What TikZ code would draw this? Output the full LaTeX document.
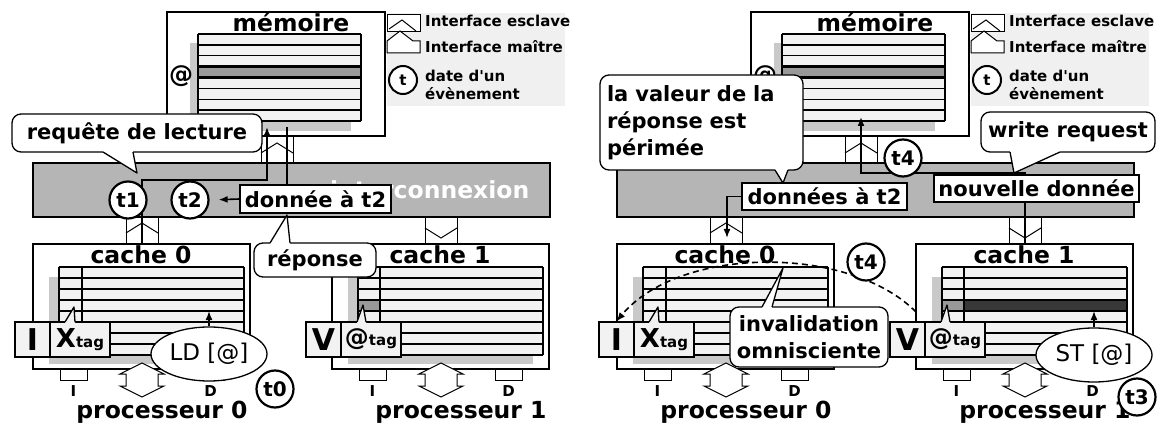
\documentclass[tikz,border=0pt]{standalone}
\usepackage{fontspec}
\setmainfont{DejaVu Sans}[Ligatures=TeXOff]
\usetikzlibrary{arrows.meta,shapes.geometric}
\definecolor{gridfill}{gray}{0.95}
\definecolor{shadowc}{gray}{0.79}
\definecolor{icfill}{gray}{0.71}
\definecolor{hlfill}{gray}{0.60}
\definecolor{darkfill}{gray}{0.22}
\definecolor{legbg}{gray}{0.94}
\tikzset{
  frame/.style={draw, line width=1.3pt, fill=white},
  gline/.style={line width=1.3pt},
  hlrow/.style={draw, line width=2.8pt},
  lbl/.style={font=\bfseries\fontsize{21}{27}\selectfont},
  ttl/.style={font=\bfseries\fontsize{23.5}{27}\selectfont},
  sml/.style={font=\bfseries\fontsize{15}{18}\selectfont},
  tbox/.style={draw, line width=1.3pt, fill=white, inner sep=0pt, lbl},
  tcirc/.style={circle, draw, line width=2.2pt, fill=white, minimum size=37pt, inner sep=0pt, font=\bfseries\fontsize{20}{22}\selectfont},
  callout/.style={draw, line width=1.3pt, fill=white, rounded corners=9pt, inner sep=0pt, lbl},
  statebox/.style={draw, line width=1.3pt, fill=gridfill, inner sep=0pt, minimum height=35pt},
  opnode/.style={ellipse, draw, line width=1.3pt, fill=white, minimum width=116pt, minimum height=54pt, inner sep=0pt, font=\fontsize{23}{23}\selectfont},
  conn/.style={line width=1.6pt},
  arr/.style={conn, -{Latex[length=9pt,width=7pt]}},
  port/.style={draw, line width=1pt, fill=white},
}
\newcommand\rowgrid[4]{%
  \fill[gridfill] (#1,#3) rectangle (#2,{#3+8*#4});
  \foreach \k in {0,...,8}{\draw[gline] (#1,{#3+\k*#4}) -- (#2,{#3+\k*#4});}
  \draw[gline] (#1,#3) -- (#1,{#3+8*#4}) (#2,#3) -- (#2,{#3+8*#4});
}
\newcommand\callptr[7]{%
  \fill[#7] (#1,#3) -- (#4,#5) -- (#2,#3) -- (#2,{#3+#6}) -- (#1,{#3+#6}) -- cycle;
  \draw[line width=1.3pt, line join=round] (#1,#3) -- (#4,#5) -- (#2,#3);
}
\newcommand\slaveport[3]{%
  \draw[port] (#1,#3) rectangle (#2,{#3+26});
  \draw[line width=1pt] (#1,{#3+16}) -- ({(#1+#2)/2},{#3+6}) -- (#2,{#3+16});
}
\newcommand\masterport[3]{%
  \draw[port] (#1,#3) rectangle (#2,{#3+26});
  \draw[line width=1pt] (#1,{#3+11}) -- ({(#1+#2)/2},{#3+21}) -- (#2,{#3+11});
}
\newcommand\dblarrow[1]{%
  \draw[port] (#1,363) -- ++(22,11) -- ++(-6,0) -- ++(0,12) -- ++(6,0) -- ++(-22,11) -- ++(-22,-11) -- ++(6,0) -- ++(0,-12) -- ++(-6,0) -- cycle;
}
\newcommand\panelback{%
  % legend
  \fill[legbg] (387,13) rectangle (565,106);
  \draw[line width=1pt, fill=white] (387,15) rectangle (420,32);
  \draw[line width=1pt] (389,29) -- (402,20) -- (416,31);
  \draw[line width=1pt, fill=white] (387,41) -- (400,31) -- (413,41) -- (420,41) -- (420,53) -- (387,53) -- cycle;
  \node[sml, anchor=base west, inner sep=0pt] at (425,27) {Interface esclave};
  \node[sml, anchor=base west, inner sep=0pt] at (425,53) {Interface maître};
  \node[tcirc, minimum size=28pt, line width=2pt, font=\bfseries\fontsize{15}{15}\selectfont] at (403,80) {t};
  \node[sml, align=left, anchor=west, inner sep=0pt] at (425,84.5) {date d'un\\évènement};
  % memory
  \draw[frame] (167,12) rectangle (385,136);
  \fill[shadowc] (190,43) rectangle (351,131);
  \rowgrid{198}{361}{34}{10.875}
  \draw[hlrow, fill=hlfill] (198,66.6) rectangle (361,77.5);
  \node[ttl, anchor=base, inner sep=0pt] at (291,32) {mémoire};
  \node[inner sep=0pt, font=\bfseries\fontsize{24}{24}\selectfont] at (181,76) {@};
  % ports
  \slaveport{261}{293}{137}
  \slaveport{126}{158}{217}
  \masterport{425}{457}{217}
  % interconnect
  \draw[line width=2pt, fill=icfill] (33,163) rectangle (550,217);
  % caches
  \draw[frame] (33,244) rectangle (250,369);
  \draw[frame] (332,244) rectangle (549,369);
  \fill[shadowc] (49,277) rectangle (234,364);
  \fill[shadowc] (348,277) rectangle (533,364);
  \rowgrid{59}{244}{267}{11}
  \rowgrid{358}{543}{267}{11}
  \draw[gline] (82,267) -- (82,355) (380,267) -- (380,355);
  \node[ttl, anchor=base, inner sep=0pt] at (141,263) {cache 0};
  \node[ttl, anchor=base, inner sep=0pt] at (440,263) {cache 1};
  \draw[port] (60,369) rectangle (87,380);
  \draw[port] (197,369) rectangle (224,380);
  \draw[port] (359,369) rectangle (386,380);
  \draw[port] (495,369) rectangle (522,380);
  \node[sml, anchor=base, inner sep=0pt] at (73.5,396) {I};
  \node[sml, anchor=base, inner sep=0pt] at (210.5,396) {D};
  \node[sml, anchor=base, inner sep=0pt] at (372.5,396) {I};
  \node[sml, anchor=base, inner sep=0pt] at (508.5,396) {D};
  \dblarrow{142}
  \dblarrow{441}
  \node[ttl, anchor=base, inner sep=0pt] at (162,418) {processeur 0};
  \node[ttl, anchor=base, inner sep=0pt] at (461,418) {processeur 1};
}
\newcommand\panelfront[1]{%
  \node[statebox, minimum width=35pt, font=\bfseries\fontsize{30}{30}\selectfont] (#1stI) at (32.5,339.5) {I};
  \node[statebox, minimum width=60pt] (#1stX) at (80,339.5) {\bfseries\fontsize{26}{26}\selectfont X\fontsize{15}{15}\selectfont tag};
  \callptr{65}{75}{322}{74}{307}{3}{gridfill}
  \node[statebox, minimum width=35pt, font=\bfseries\fontsize{30}{30}\selectfont] (#1stV) at (323.5,339.5) {V};
  \node[statebox, minimum width=60pt] (#1stA) at (371,339.5) {\bfseries\fontsize{24}{24}\selectfont @\fontsize{15}{15}\selectfont tag};
  \callptr{357}{366}{322}{363}{305}{3}{gridfill}
}
\begin{document}
\begin{tikzpicture}[x=1pt, y=-1pt]
\useasboundingbox (0,0) rectangle (1163,425);
% ---------- common backgrounds
\panelback
\begin{scope}[xshift=584]
\panelback
\end{scope}
% ---------- left panel, back
\draw[hlrow, fill=gridfill] (59,300) rectangle (244,311);
\draw[hlrow] (82,300) -- (82,311);
\draw[gline, fill=hlfill] (358,300) rectangle (380,311);
\node[ttl, text=white, anchor=base west, inner sep=0pt] (Lic) at (330,199) {interconnexion};
\coordinate (Lc0) at (142,243);
\coordinate (Lmemin) at (267,127);
\coordinate (Lmemout) at (287,127);
\coordinate (Lreqy) at (0,180);
\draw[arr] (Lc0) -- (Lc0 |- Lreqy) -| (Lmemin);
\node[tbox, minimum width=151pt, minimum height=28pt] (Ldat) at (315.5,199) {donnée à t2};
\draw[conn] (Lmemout) -- (Lmemout |- Ldat.north);
\node[tcirc] (Lt1) at (128,200) {t1};
\node[tcirc] (Lt2) at (190,200) {t2};
\draw[arr, shorten >=9pt] (Ldat.west) -- (Lt2.east);
% ---------- right panel, back
\draw[hlrow, fill=gridfill] (643,300) rectangle (828,311);
\draw[hlrow] (666,300) -- (666,311);
\draw[hlrow, fill=darkfill] (942,300) rectangle (1127,311);
\draw[hlrow, fill=hlfill] (942,300) rectangle (964,311);
\coordinate (Rc1) at (1025,243);
\coordinate (Rmemin) at (861,117);
\coordinate (Rwy) at (0,173);
\draw[arr] (Rc1) -- (Rc1 |- Rwy) -| (Rmemin);
\coordinate (Rc0in) at (727,238);
\node[tbox, minimum width=165pt, minimum height=27pt] (Rdon) at (824.5,196.5) {données à t2};
\draw[arr] (Rdon.west) -| (Rc0in);
\node[tbox, minimum width=205pt, minimum height=27pt] (Rnew) at (1036.5,188.5) {nouvelle donnée};
\node[tcirc] (Rt4a) at (903,158) {t4};
% ---------- state boxes
\panelfront{L}
\begin{scope}[xshift=584]
\panelfront{R}
\end{scope}
% ---------- left panel, front
\node[callout, minimum width=250pt, minimum height=38pt] (Lreq) at (137,133) {requête de lecture};
\callptr{103}{133}{152}{137}{173}{-3}{white}
\node[callout, minimum width=122pt, minimum height=34pt] (Lrep) at (315,260) {réponse};
\callptr{270}{290}{243}{287}{215}{3}{white}
\node[opnode] (Lld) at (209,354) {LD [@]};
\coordinate (Lrow) at (209,311);
\draw[arr] (Lld.north) -- (Lrow);
\node[tcirc] (Lt0) at (275,389) {t0};
% ---------- right panel, front
\node[callout, align=left, text width=189pt, inner xsep=7pt, minimum height=95pt] (Rval) at (701.5,122.5) {la valeur de la\\réponse est\\périmée};
\callptr{775}{788}{170}{783}{183}{-3}{white}
\node[callout, minimum width=174pt, minimum height=40pt] (Rwr) at (1068,132) {write request};
\callptr{1010}{1060}{152}{1014}{173}{-3}{white}
\coordinate (Rinvsrc) at (916,312);
\draw[conn, dash pattern=on 6pt off 4pt, -{Latex[length=9pt,width=7pt]}] (Rinvsrc) .. controls (850,245) and (680,245) .. (RstI.north);
\node[tcirc] (Rt4b) at (866,262) {t4};
\node[callout, align=center, minimum width=158pt, minimum height=60pt] (Rinv) at (809,337) {invalidation\\omnisciente};
\callptr{762}{772}{307}{783}{268}{3}{white}
\node[opnode] (Rst) at (1094,355) {ST [@]};
\coordinate (Rrow) at (1094,311);
\draw[arr] (Rst.north) -- (Rrow);
\node[tcirc] (Rt3) at (1137,397) {t3};
\end{tikzpicture}
\end{document}
